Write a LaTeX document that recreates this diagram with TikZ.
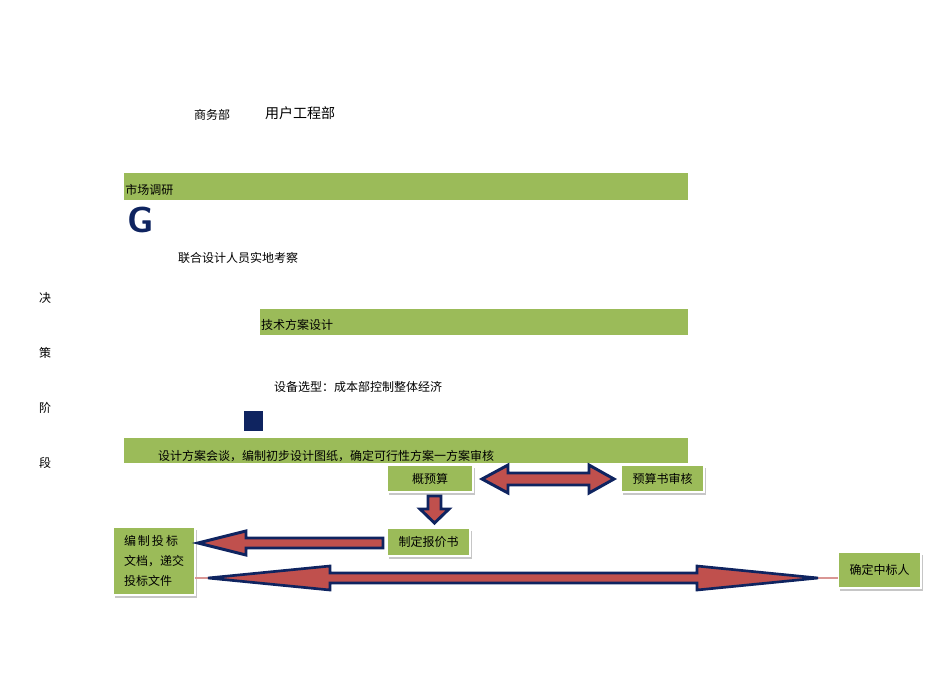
\documentclass[tikz,border=0pt]{standalone}
\usepackage{fontspec}
\setmainfont{Noto Sans CJK SC}
\usetikzlibrary{calc}
\definecolor{bar}{HTML}{9BBB59}
\definecolor{navy}{HTML}{0F2460}
\definecolor{ared}{HTML}{C0504D}
\tikzset{
  px/.style={x=0.75pt,y=-0.75pt},
  txt/.style={inner sep=0pt,font=\fontsize{9}{11}\selectfont},
  bx/.style={fill=bar,draw=white,line width=1pt,inner sep=0pt,font=\fontsize{9}{11}\selectfont,
     postaction={}},
  shadow/.style={fill=gray!45},
  arr/.style={fill=ared,draw=navy,line width=2.2pt,line join=miter},
}
\begin{document}
\begin{tikzpicture}[px]
\useasboundingbox (0,0) rectangle (950,683);
\node[txt] (sw) at (212,115) {商务部};
\node[txt,font=\fontsize{10.5}{12}\selectfont] (yh) at (300,113) {用户工程部};
% bars
\fill[bar] (124,173) rectangle (688,200);
\node[txt,anchor=west] (b1) at (125,190) {市场调研};
\node[inner sep=0pt,text=navy,font=\fontsize{27}{30}\sffamily\bfseries] (g) at (141,220) {G};
\node[txt] (lh) at (238,258) {联合设计人员实地考察};
\foreach \c/\y in {决/298,策/353,阶/408,段/463} \node[txt] at (45,\y) {\c};
\fill[bar] (260,309) rectangle (688,335);
\node[txt] (b2) at (297,325) {技术方案设计};
\node[txt] (sb) at (358,387) {设备选型：成本部控制整体经济};
\fill[navy] (244,411) rectangle (263,431);
\fill[bar] (124,438) rectangle (688,463);
\node[txt] (b3) at (326,456) {设计方案会谈，编制初步设计图纸，确定可行性方案一方案审核};
% boxes with shadow
\foreach \n/\xa/\ya/\xb/\yb in {gys/387/465/473/492, ysh/621/465/704/492, bj/387/528/470/556, tb/113/527/195/595, zb/838/552/921/588}{
  \fill[shadow] (\xa+2,\ya+3) rectangle (\xb+2,\yb+3);
  \draw[fill=bar,draw=white,line width=1.2pt] (\xa,\ya) rectangle (\xb,\yb);
  \coordinate (\n) at ({(\xa+\xb)/2},{(\ya+\yb)/2});
}
\node[txt] at (gys) {概预算};
\node[txt] at (ysh) {预算书审核};
\node[txt] at (bj) {制定报价书};
\node[txt,align=left,font=\fontsize{9}{15}\selectfont] at (tb) {编\,制\,投\,标\\文档，递交\\投标文件};
\node[txt] at (zb) {确定中标人};
% arrows
\draw[arr] (482,479) -- (508,465) -- (508,473) -- (589,473) -- (589,465) -- (614,479)
  -- (589,493) -- (589,485) -- (508,485) -- (508,493) -- cycle;
\draw[arr] (428,496) -- (441,496) -- (441,509) -- (449,509) -- (434.5,523) -- (420,509) -- (428,509) -- cycle;
\draw[arr] (383,538) -- (246,538) -- (246,531) -- (198,543) -- (246,555) -- (246,548) -- (383,548) -- cycle;
\draw[ared!60,line width=0.8pt] (195,578) -- (210,578);
\draw[ared!60,line width=0.8pt] (815,578) -- (838,578);
\draw[arr,line width=2pt] (208,578) -- (330,566) -- (330,573) -- (697,573) -- (697,566) -- (818,578)
  -- (697,590) -- (697,583) -- (330,583) -- (330,590) -- cycle;
\end{tikzpicture}
\end{document}
